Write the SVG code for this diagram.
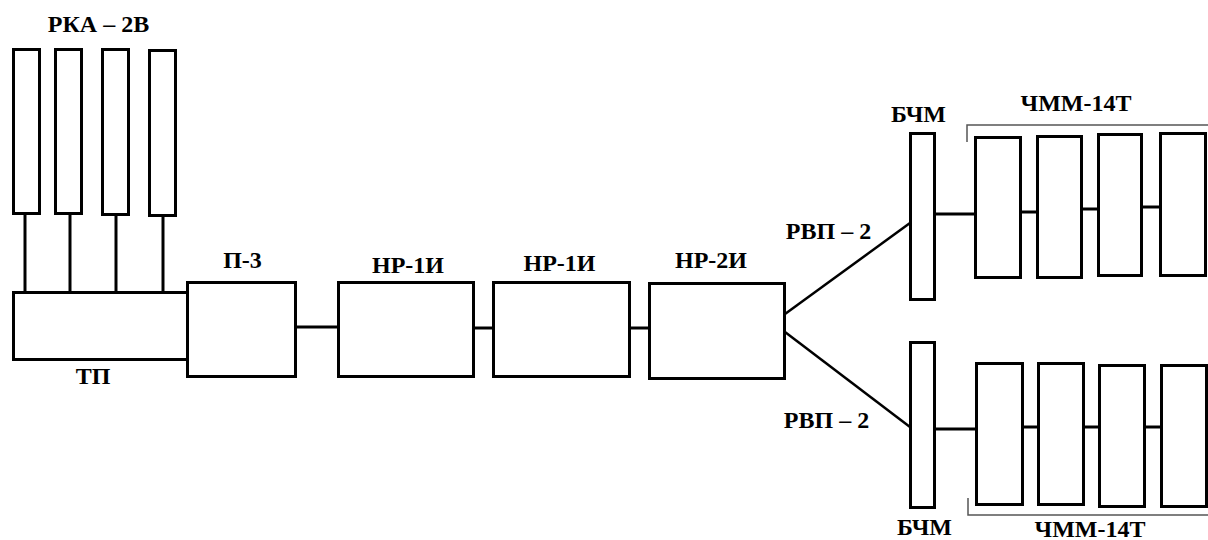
<svg xmlns="http://www.w3.org/2000/svg" width="1208" height="540" viewBox="0 0 1208 540">
<style>
.b{fill:#fff;stroke:#000;stroke-width:3}
.c{stroke:#000;stroke-width:3;fill:none}
.d{stroke:#000;stroke-width:2.5;fill:none}
.k{stroke:#555;stroke-width:1.5;fill:none}
.t{font-family:'Liberation Serif','Times New Roman',serif;font-weight:bold;font-size:24px;text-anchor:middle;fill:#000}
</style>
<rect width="1208" height="540" fill="#fff"/>
<g id="connectors">
<line class="c" x1="25" y1="214" x2="25" y2="292"/>
<line class="c" x1="70" y1="214" x2="70" y2="292"/>
<line class="c" x1="116" y1="215" x2="116" y2="292"/>
<line class="c" x1="163" y1="216" x2="163" y2="292"/>
<line class="c" x1="296" y1="327" x2="338" y2="327"/>
<line class="c" x1="474" y1="328" x2="493" y2="328"/>
<line class="c" x1="630" y1="328" x2="649" y2="328"/>
<line class="d" x1="785" y1="314" x2="910" y2="223"/>
<line class="d" x1="785" y1="332" x2="910" y2="427"/>
<line class="c" x1="935" y1="214" x2="975" y2="214"/>
<line class="c" x1="1021" y1="212" x2="1037" y2="212"/>
<line class="c" x1="1082" y1="209" x2="1098" y2="209"/>
<line class="c" x1="1142" y1="207" x2="1160" y2="207"/>
<line class="c" x1="935" y1="429" x2="976" y2="429"/>
<line class="c" x1="1023" y1="427" x2="1038" y2="427"/>
<line class="c" x1="1084" y1="427" x2="1099" y2="427"/>
<line class="c" x1="1145" y1="427" x2="1161" y2="427"/>
<polyline class="k" points="967,142 967,125 1208,125"/>
<polyline class="k" points="968,498 968,515 1208,515"/>
</g>
<g id="rka">
<rect class="b" x="13.5" y="49.5" width="26" height="164"/>
<rect class="b" x="55.5" y="49.5" width="26" height="164"/>
<rect class="b" x="102.5" y="49.5" width="26" height="165"/>
<rect class="b" x="149.5" y="50.5" width="26" height="165"/>
<text class="t" x="98.5" y="32">РКА – 2В</text>
</g>
<g id="tp">
<rect class="b" x="13.5" y="292.5" width="174" height="67"/>
<text class="t" x="93" y="384">ТП</text>
</g>
<g id="p3">
<rect class="b" x="187.5" y="282.5" width="108" height="94"/>
<text class="t" x="242.5" y="268">П-3</text>
</g>
<g id="hp1a">
<rect class="b" x="338.5" y="282.5" width="135" height="94"/>
<text class="t" x="408" y="273">НР-1И</text>
</g>
<g id="hp1b">
<rect class="b" x="493.5" y="282.5" width="136" height="94"/>
<text class="t" x="559.5" y="271">НР-1И</text>
</g>
<g id="hp2">
<rect class="b" x="649.5" y="283.5" width="135" height="95"/>
<text class="t" x="711" y="268">НР-2И</text>
</g>
<g id="rvp1"><text class="t" x="828.5" y="239">РВП – 2</text></g>
<g id="rvp2"><text class="t" x="826.5" y="428">РВП – 2</text></g>
<g id="bchm1">
<rect class="b" x="910.5" y="133.5" width="24" height="166"/>
<text class="t" x="918.5" y="122">БЧМ</text>
</g>
<g id="chmm1">
<rect class="b" x="975.5" y="137.5" width="45" height="140"/>
<rect class="b" x="1037.5" y="136.5" width="44" height="141"/>
<rect class="b" x="1098.5" y="134.5" width="43" height="141"/>
<rect class="b" x="1160.5" y="133.5" width="45" height="142"/>
<text class="t" x="1076" y="111">ЧММ-14Т</text>
</g>
<g id="bchm2">
<rect class="b" x="910.5" y="342.5" width="24" height="165"/>
<text class="t" x="924.5" y="535">БЧМ</text>
</g>
<g id="chmm2">
<rect class="b" x="976.5" y="363.5" width="46" height="141"/>
<rect class="b" x="1038.5" y="363.5" width="45" height="141"/>
<rect class="b" x="1099.5" y="365.5" width="45" height="141"/>
<rect class="b" x="1161.5" y="365.5" width="45" height="141"/>
<text class="t" x="1090" y="537">ЧММ-14Т</text>
</g>
</svg>
